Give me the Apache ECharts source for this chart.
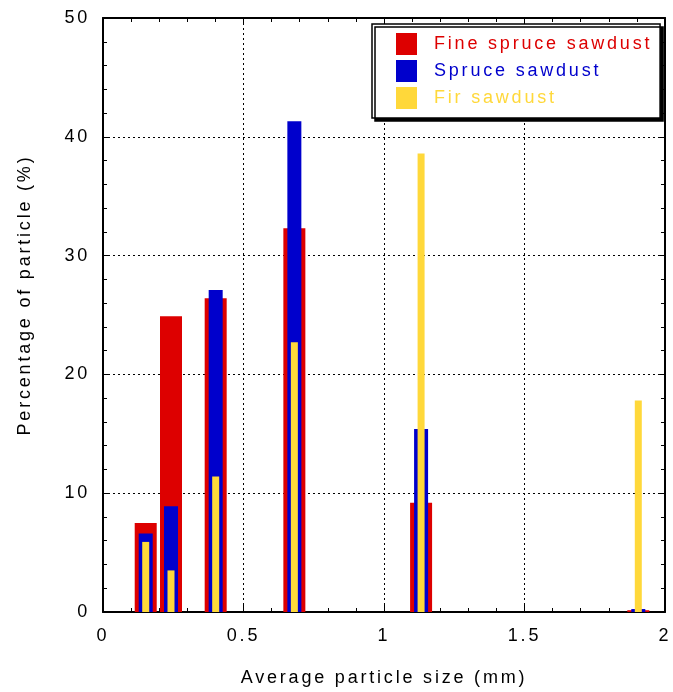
<!DOCTYPE html>
<html>
<head>
<meta charset="utf-8">
<script src="https://cdn.jsdelivr.net/npm/echarts@6/dist/echarts.min.js"></script>
<style>
  html, body { margin: 0; padding: 0; background: #fff; }
  #chart { width: 673px; height: 692px; }
</style>
</head>
<body>
<div id="chart"></div>
<script>
// average particle size (mm) for each size class
const sizes = [0.152, 0.242, 0.401, 0.681, 1.132, 1.905];
// percentage of particle (%) per sawdust type
const fineSpruce = [7.5, 24.9, 26.4, 32.3, 9.2, 0.15];
const spruce = [6.6, 8.9, 27.1, 41.3, 15.4, 0.25];
const fir = [5.9, 3.5, 11.4, 22.7, 38.6, 17.8];
const seriesNames = ["Fine spruce sawdust", "Spruce sawdust", "Fir sawdust"];
const colors = ["#dd0000", "#0000cc", "#ffd83a"];
const xTicks = [0, 0.5, 1, 1.5, 2];
const yTicks = [0, 10, 20, 30, 40, 50];

const font = "Liberation Sans, Arial, sans-serif";

// the original plot has loosely spaced lettering
const origFillText = CanvasRenderingContext2D.prototype.fillText;
CanvasRenderingContext2D.prototype.fillText = function (t, x, y, w) {
  this.letterSpacing = "2.8px";
  return w === undefined ? origFillText.call(this, t, x, y) : origFillText.call(this, t, x, y, w);
};

function pairs(vals) {
  return sizes.map((s, i) => [s, vals[i]]);
}

const chart = echarts.init(document.getElementById("chart"));

const dotted = { show: true, lineStyle: { color: "#000", width: 1, type: [2, 3] } };
const axisLine = { show: true, onZero: false, lineStyle: { color: "#000", width: 2 } };
const tick = { show: true, inside: true, length: 7, lineStyle: { color: "#000", width: 1 } };
const minor = { show: true, splitNumber: 5, length: 4, lineStyle: { color: "#000", width: 1 } };

const option = {
  animation: false,
  backgroundColor: "#fff",
  grid: { left: 103, right: 6, top: 18, bottom: 79 },
  legend: {
    orient: "vertical",
    left: 372,
    top: 24,
    itemWidth: 21,
    itemHeight: 22,
    itemGap: 5,
    padding: [9, 61, 9, 24],
    icon: "rect",
    backgroundColor: "#fff",
    borderColor: "#000",
    borderWidth: 1.5,
    borderRadius: 0,
    shadowColor: "#000",
    shadowBlur: 0,
    shadowOffsetX: 3,
    shadowOffsetY: 3,
    textStyle: { fontFamily: font, fontSize: 18, padding: [0, 0, 0, 12] },
    data: seriesNames.map((n, i) => ({ name: n, textStyle: { color: colors[i] } }))
  },
  xAxis: [
    {
      type: "value", position: "bottom", min: 0, max: 2, interval: 0.5,
      name: "Average particle size (mm)", nameLocation: "middle", nameGap: 57,
      nameTextStyle: { fontFamily: font, fontSize: 18, color: "#000" },
      axisLine: axisLine, axisTick: tick, minorTick: minor, splitLine: dotted,
      axisLabel: { fontFamily: font, fontSize: 18, color: "#000", margin: 15,
        formatter: v => xTicks.includes(v) ? String(v) : "" }
    },
    {
      type: "value", position: "top", min: 0, max: 2, interval: 0.5,
      axisLine: axisLine, axisTick: tick, minorTick: minor,
      splitLine: { show: false }, axisLabel: { show: false }
    },
    { type: "value", min: 0, max: 2, show: false }
  ],
  yAxis: [
    {
      type: "value", position: "left", min: 0, max: 50, interval: 10,
      name: "Percentage of particle (%)", nameLocation: "middle", nameGap: 69,
      nameTextStyle: { fontFamily: font, fontSize: 18, color: "#000", padding: [0, 0, 0, 40] },
      axisLine: axisLine, axisTick: tick, minorTick: minor, splitLine: dotted,
      axisLabel: { fontFamily: font, fontSize: 18, color: "#000", margin: 13,
        formatter: v => yTicks.includes(v) ? String(v) : "" }
    },
    {
      type: "value", position: "right", min: 0, max: 50, interval: 10,
      axisLine: axisLine, axisTick: tick, minorTick: minor,
      splitLine: { show: false }, axisLabel: { show: false }
    }
  ],
  series: [
    { name: seriesNames[0], type: "bar", xAxisIndex: 0, yAxisIndex: 0, barWidth: 22,
      itemStyle: { color: colors[0] }, data: pairs(fineSpruce) },
    { name: seriesNames[1], type: "bar", xAxisIndex: 1, yAxisIndex: 0, barWidth: 14,
      itemStyle: { color: colors[1] }, data: pairs(spruce) },
    { name: seriesNames[2], type: "bar", xAxisIndex: 2, yAxisIndex: 0, barWidth: 7,
      itemStyle: { color: colors[2] }, data: pairs(fir) }
  ]
};

chart.setOption(option);
</script>
</body>
</html>
